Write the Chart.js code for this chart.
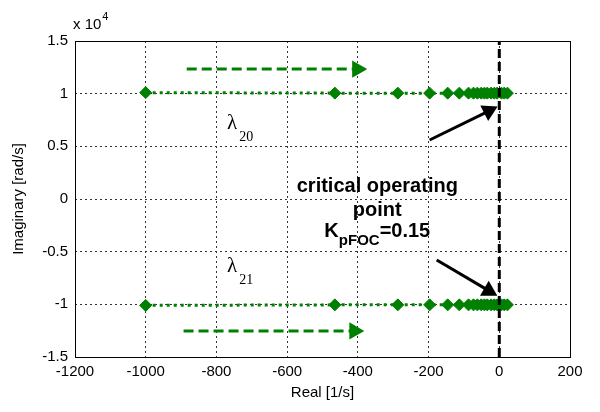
<!DOCTYPE html>
<html>
<head>
<meta charset="utf-8">
<script src="https://cdn.jsdelivr.net/npm/chart.js@4/dist/chart.umd.min.js"></script>
<style>
  html, body { margin: 0; padding: 0; background: #fff; }
  #wrap { width: 600px; height: 412px; }
</style>
</head>
<body>
<div id="wrap"><canvas id="grafico" width="600" height="412"></canvas></div>
<script>
// Dados (lugar das raízes, eixo y em rad/s)
const realLambda20 = [-1000, -465, -287, -197, -146, -113, -87, -73, -62, -51, -42, -34, -23, -14, -6, 6, 14, 23];
const imagLambda20 = [10100, 10050, 10050, 10050, 10050, 10050, 10050, 10050, 10050, 10050, 10050, 10050, 10050, 10050, 10050, 10050, 10050, 10050];
const realLambda21 = [-1000, -465, -287, -197, -146, -113, -87, -73, -62, -51, -42, -34, -23, -14, -6, 6, 14, 23];
const imagLambda21 = [-10100, -10050, -10050, -10050, -10050, -10050, -10050, -10050, -10050, -10050, -10050, -10050, -10050, -10050, -10050, -10050, -10050, -10050];

// Ponto crítico (Re = 0) e setas de anotação
const linhaCriticaX = [0, 0];
const linhaCriticaY = [-15000, 15000];
const setaVerdeSupX = [-884, -402];
const setaVerdeSupY = [12330, 12330];
const setaVerdeInfX = [-893, -410];
const setaVerdeInfY = [-12520, -12520];
const setaPretaSupX = [-197, -30];
const setaPretaSupY = [5600, 8350];
const setaPretaInfX = [-177, -30];
const setaPretaInfY = [-5790, -8700];

// Eixos
const xTicksMin = -1200, xTicksMax = 200, xPasso = 200;
const yTicksMin = -15000, yTicksMax = 15000, yPasso = 5000;

const verde = '#008000';

function pontos(xs, ys) {
    return xs.map((x, i) => ({ x: x, y: ys[i] }));
}

// Plugin para moldura e textos
const anotacoes = {
    id: 'anotacoes',
    afterDatasetsDraw(chart) {
        const ctx = chart.ctx;
        const area = chart.chartArea;
        const sx = chart.scales.x, sy = chart.scales.y;
        ctx.save();
        ctx.setLineDash([]);
        ctx.strokeStyle = '#000';
        ctx.lineWidth = 1;
        ctx.strokeRect(area.left + 0.5, area.top + 0.5, area.right - area.left, area.bottom - area.top);

        // x 10^4
        ctx.fillStyle = '#000';
        ctx.textBaseline = 'alphabetic';
        ctx.textAlign = 'left';
        ctx.font = '15px "Liberation Sans", Arial, sans-serif';
        ctx.fillText('x 10', area.left - 2, area.top - 12);
        const w10 = ctx.measureText('x 10').width;
        ctx.font = '11px "Liberation Sans", Arial, sans-serif';
        ctx.fillText('4', area.left - 2 + w10 + 1, area.top - 21);

        // lambdas
        function lambda(sub, xv, yv) {
            const px = sx.getPixelForValue(xv), py = sy.getPixelForValue(yv);
            ctx.font = '21px "Liberation Serif", "Times New Roman", serif';
            ctx.fillText('λ', px, py);
            const wl = ctx.measureText('λ').width;
            ctx.font = '14px "Liberation Serif", "Times New Roman", serif';
            ctx.fillText(sub, px + wl + 2, py + 12);
        }
        lambda('20', -770, 6600);
        lambda('21', -770, -6900);

        // texto do ponto crítico
        const cx = sx.getPixelForValue(-345);
        ctx.textAlign = 'center';
        ctx.font = 'bold 20px "Liberation Sans", Arial, sans-serif';
        ctx.fillText('critical operating', cx, sy.getPixelForValue(700));
        ctx.fillText('point', cx, sy.getPixelForValue(-1650));
        const kTxt = 'K', subTxt = 'pFOC', eqTxt = '=0.15';
        ctx.font = 'bold 20px "Liberation Sans", Arial, sans-serif';
        const wk = ctx.measureText(kTxt).width, we = ctx.measureText(eqTxt).width;
        ctx.font = 'bold 15px "Liberation Sans", Arial, sans-serif';
        const ws = ctx.measureText(subTxt).width;
        let x0 = cx - (wk + ws + we) / 2;
        const yk = sy.getPixelForValue(-3600);
        ctx.textAlign = 'left';
        ctx.font = 'bold 20px "Liberation Sans", Arial, sans-serif';
        ctx.fillText(kTxt, x0, yk);
        ctx.font = 'bold 15px "Liberation Sans", Arial, sans-serif';
        ctx.fillText(subTxt, x0 + wk, yk + 8);
        ctx.font = 'bold 20px "Liberation Sans", Arial, sans-serif';
        ctx.fillText(eqTxt, x0 + wk + ws, yk);
        ctx.restore();
    }
};

const fonteEixo = { family: '"Liberation Sans", Arial, sans-serif', size: 15 };

new Chart(document.getElementById('grafico').getContext('2d'), {
    type: 'scatter',
    data: {
        datasets: [
            {
                data: pontos(setaPretaSupX, setaPretaSupY), showLine: true,
                borderColor: '#000', backgroundColor: '#000', borderWidth: 3,
                pointStyle: 'triangle', pointRadius: [0, 7], rotation: 63, order: 0
            },
            {
                data: pontos(setaPretaInfX, setaPretaInfY), showLine: true,
                borderColor: '#000', backgroundColor: '#000', borderWidth: 3,
                pointStyle: 'triangle', pointRadius: [0, 7], rotation: 120, order: 0
            },
            {
                data: pontos(setaVerdeSupX, setaVerdeSupY), showLine: true,
                borderColor: verde, backgroundColor: verde, borderWidth: 3, borderDash: [10, 5],
                pointStyle: 'triangle', pointRadius: [0, 7], rotation: 90, order: 0
            },
            {
                data: pontos(setaVerdeInfX, setaVerdeInfY), showLine: true,
                borderColor: verde, backgroundColor: verde, borderWidth: 3, borderDash: [10, 5],
                pointStyle: 'triangle', pointRadius: [0, 7], rotation: 90, order: 0
            },
            {
                data: pontos(linhaCriticaX, linhaCriticaY), showLine: true,
                borderColor: '#000', borderWidth: 3, borderDash: [9, 4], pointRadius: 0, order: 1
            },
            {
                label: 'λ20', data: pontos(realLambda20, imagLambda20), showLine: true,
                borderColor: verde, backgroundColor: verde, borderWidth: 3, borderDash: [3, 4],
                pointStyle: 'rectRot', pointRadius: 6, pointBorderWidth: 1, order: 2
            },
            {
                label: 'λ21', data: pontos(realLambda21, imagLambda21), showLine: true,
                borderColor: verde, backgroundColor: verde, borderWidth: 3, borderDash: [3, 4],
                pointStyle: 'rectRot', pointRadius: 6, pointBorderWidth: 1, order: 2
            }
        ]
    },
    options: {
        responsive: false,
        animation: false,
        layout: { padding: { left: 0, right: 30, top: 41, bottom: 0 } },
        plugins: { legend: { display: false }, tooltip: { enabled: false } },
        scales: {
            x: {
                type: 'linear', min: xTicksMin, max: xTicksMax,
                afterFit: (s) => { s.height = 55; },
                ticks: { stepSize: xPasso, color: '#000', font: fonteEixo, padding: 6, maxRotation: 0,
                    callback: (v) => String(v) },
                grid: { color: '#333', lineWidth: 1, drawTicks: false },
                border: { display: false, dash: [2, 3] },
                title: { display: true, text: 'Real [1/s]', color: '#000', font: fonteEixo, padding: { top: 0, bottom: 10 } }
            },
            y: {
                type: 'linear', min: yTicksMin, max: yTicksMax,
                afterFit: (s) => { s.width = 75; },
                ticks: {
                    stepSize: yPasso, color: '#000', font: fonteEixo, padding: 7,
                    callback: (v) => String(v / 10000)
                },
                grid: { color: '#333', lineWidth: 1, drawTicks: false },
                border: { display: false, dash: [2, 3] },
                title: { display: true, text: 'Imaginary [rad/s]', color: '#000', font: fonteEixo, padding: { top: 10, bottom: 0 } }
            }
        }
    },
    plugins: [anotacoes]
});
</script>
</body>
</html>
